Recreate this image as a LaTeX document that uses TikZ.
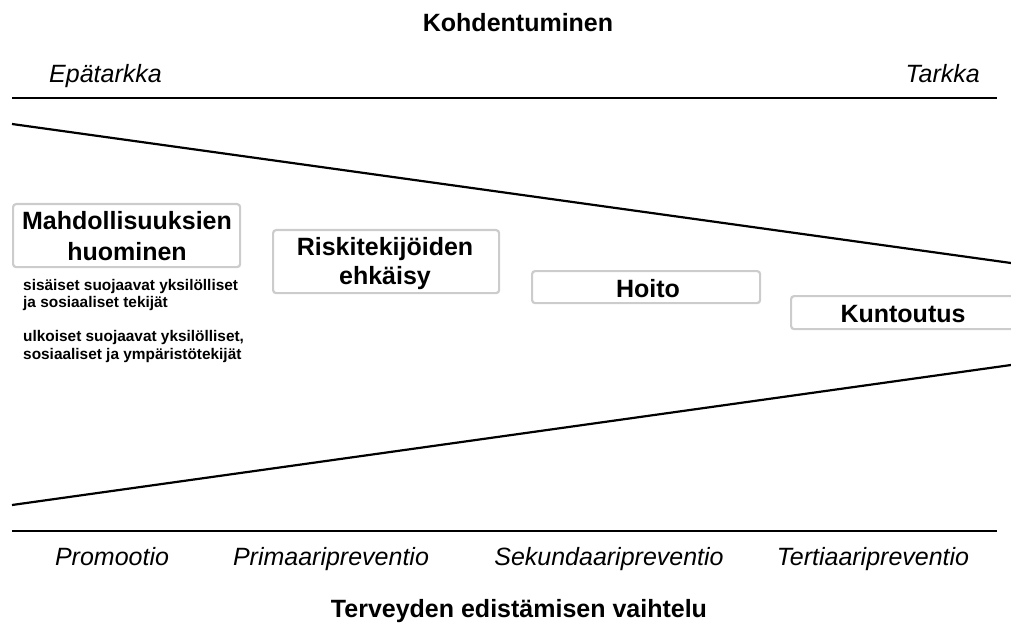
\documentclass[tikz,border=0pt]{standalone}
\usepackage{fontspec}
\setmainfont{Liberation Sans}
\begin{document}
\begin{tikzpicture}[x=1pt,y=-1pt,
  stage/.style={draw=black!20, line width=2.2pt, rounded corners=3pt, inner sep=0pt, anchor=north west},
  stagetxt/.style={align=center, inner sep=0pt, anchor=base, font=\bfseries\fontsize{25}{30}\selectfont},
  lbl/.style={font=\itshape\fontsize{25}{30}\selectfont, inner sep=0pt},
  ttl/.style={font=\bfseries\fontsize{25}{30}\selectfont, inner sep=0pt, anchor=base},
  small/.style={font=\bfseries\fontsize{15.4}{17.5}\selectfont, align=left, anchor=base west, inner sep=0pt},
  ln/.style={line width=2.2pt}]
\path[use as bounding box] (0,0) rectangle (1011,628);
\node[ttl] (t1) at (518,32) {Kohdentuminen};
\node[lbl, anchor=base west] (ep) at (49,83) {Epätarkka};
\node[lbl, anchor=base east] (ta) at (980,83) {Tarkka};
\coordinate (h1a) at (12,98); \coordinate (h1b) at (997,98);
\coordinate (h2a) at (12,531); \coordinate (h2b) at (997,531);
\coordinate (d1a) at (12,124); \coordinate (d1b) at (1011,263);
\coordinate (d2a) at (12,505); \coordinate (d2b) at (1011,365);
\draw[ln] (h1a) -- (h1b);
\draw[ln] (h2a) -- (h2b);
\draw[ln] (d1a) -- (d1b);
\draw[ln] (d2a) -- (d2b);
\node[stage, minimum width=227pt, minimum height=63pt] (b1) at (12,203) {};
\node[stage, minimum width=226pt, minimum height=63pt] (b2) at (272,229) {};
\node[stage, minimum width=228pt, minimum height=32pt] (b3) at (531,270) {};
\node[stage, minimum width=228pt, minimum height=33pt] (b4) at (790,295) {};
\node[stagetxt] (b1t) at (127,260) {Mahdollisuuksien\\[1pt]huominen};
\node[stagetxt] (b2t) at (385,284) {Riskitekijöiden\\[-1pt]ehkäisy};
\node[stagetxt] (b3t) at (648,297) {Hoito};
\node[stagetxt] (b4t) at (903,322) {Kuntoutus};
\node[small] (s1) at (23,307.5) {sisäiset suojaavat yksilölliset\\ja sosiaaliset tekijät};
\node[small] (s2) at (23,359) {ulkoiset suojaavat yksilölliset,\\sosiaaliset ja ympäristötekijät};
\node[lbl, anchor=base] (p1) at (112,565) {Promootio};
\node[lbl, anchor=base] (p2) at (331,565) {Primaaripreventio};
\node[lbl, anchor=base] (p3) at (609,565) {Sekundaaripreventio};
\node[lbl, anchor=base] (p4) at (873,565) {Tertiaaripreventio};
\node[ttl] (t2) at (519,617) {Terveyden edistämisen vaihtelu};
\end{tikzpicture}
\end{document}
